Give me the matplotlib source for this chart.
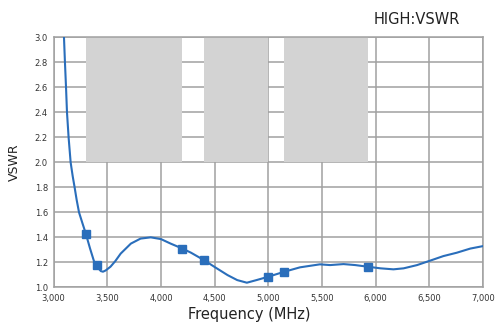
import numpy as np
import matplotlib.pyplot as plt
from matplotlib.ticker import FuncFormatter

# VSWR sweep, frequency in MHz
freq = [3085, 3097, 3106, 3116, 3125, 3140, 3159, 3178, 3196, 3215, 3237,
        3270, 3300, 3340, 3376, 3400, 3420, 3440, 3460, 3485, 3530, 3575,
        3625, 3720, 3810, 3905, 4000, 4090, 4200, 4280, 4400, 4505, 4620,
        4710, 4800, 4890, 5000, 5150, 5295, 5480, 5575, 5700, 5810, 5925,
        6045, 6165, 6260, 6385, 6505, 6630, 6755, 6880, 7000]
vswr = [3.10, 3.00, 2.80, 2.60, 2.40, 2.20, 2.00, 1.89, 1.80, 1.70, 1.60,
        1.51, 1.43, 1.31, 1.21, 1.18, 1.15, 1.13, 1.125, 1.135, 1.165, 1.21,
        1.27, 1.35, 1.39, 1.40, 1.386, 1.35, 1.31, 1.277, 1.218, 1.16, 1.098,
        1.058, 1.037, 1.058, 1.085, 1.125, 1.16, 1.184, 1.178, 1.186, 1.178,
        1.165, 1.152, 1.144, 1.152, 1.178, 1.213, 1.25, 1.277, 1.31, 1.33]

# measurement points
mark_freq = [3300, 3400, 4200, 4400, 5000, 5150, 5925]
mark_vswr = [1.43, 1.18, 1.31, 1.218, 1.085, 1.125, 1.165]

# operating bands (shaded above VSWR 2.0)
band_start = [3300, 4400, 5150]
band_end = [4200, 5000, 5925]

xticks = [3000, 3500, 4000, 4500, 5000, 5500, 6000, 6500, 7000]
yticks = [1.0, 1.2, 1.4, 1.6, 1.8, 2.0, 2.2, 2.4, 2.6, 2.8, 3.0]

grid_col = '#a0a0a0'
line_col = '#2a6ebb'

fig = plt.figure(figsize=(4.96, 3.28), dpi=100)
ax = fig.add_axes([0.108, 0.124, 0.866, 0.762])

for x0, x1 in zip(band_start, band_end):
    ax.fill_between([x0, x1], 2.0, 3.0, color='#d3d3d3', lw=0, zorder=2)

ax.plot(freq, vswr, color=line_col, lw=1.5, zorder=3)
ax.plot(mark_freq, mark_vswr, 's', color=line_col, ms=5.5, zorder=4)

ax.set_xlim(3000, 7000)
ax.set_ylim(1.0, 3.0)
ax.set_xticks(xticks)
ax.set_yticks(yticks)
ax.xaxis.set_major_formatter(FuncFormatter(lambda v, p: '{:,.0f}'.format(v)))
ax.yaxis.set_major_formatter(FuncFormatter(lambda v, p: '{:.1f}'.format(v)))
ax.tick_params(length=0, labelsize=6, labelcolor='#333333')
ax.tick_params(axis='x', pad=5)
ax.tick_params(axis='y', pad=4)

ax.grid(True, color=grid_col, lw=1.1, zorder=1)
ax.set_axisbelow(True)
for s in ax.spines.values():
    s.set_color(grid_col)
    s.set_linewidth(1.1)

ax.set_xlabel('Frequency (MHz)', fontsize=10.5, color='#222222')
ax.xaxis.set_label_coords(0.455, -0.08)
ax.set_ylabel('VSWR', fontsize=9, color='#222222')
ax.yaxis.set_label_coords(-0.076, 0.5)

fig.text(0.841, 0.94, 'HIGH:VSWR', fontsize=10.5, color='#222222',
         ha='center', va='center')

fig.savefig('out.png', dpi=100)
